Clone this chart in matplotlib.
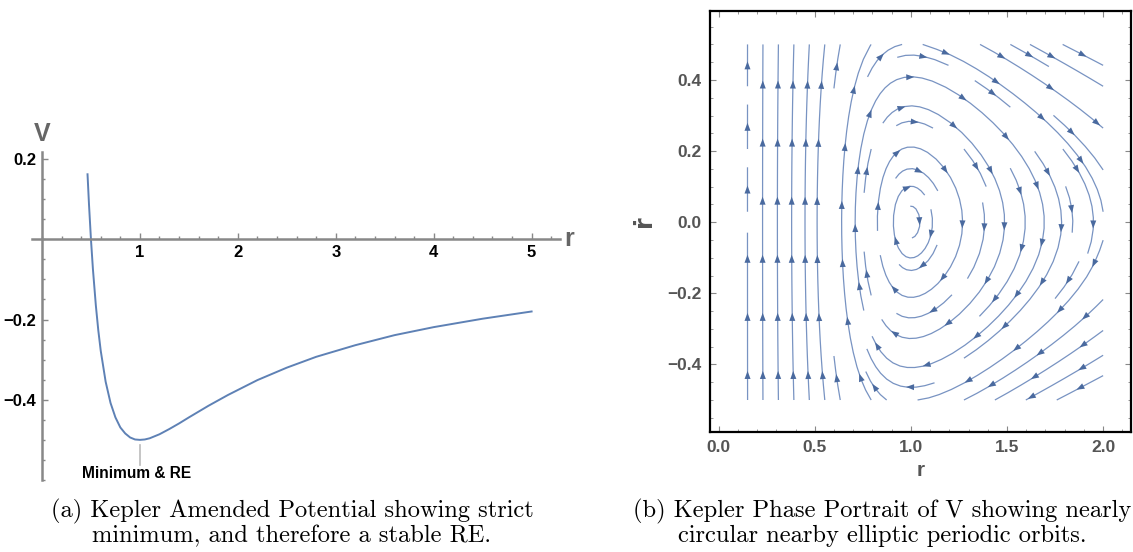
import numpy as np
import matplotlib
matplotlib.use("Agg")
import matplotlib.pyplot as plt
from matplotlib.ticker import MultipleLocator
from matplotlib.patches import Polygon

plt.rcParams['font.family'] = ['Liberation Sans', 'DejaVu Sans']

# (a) amended potential V(r)
r_vals = [0.465, 0.48, 0.5, 0.52, 0.55, 0.575, 0.6, 0.65, 0.7, 0.75, 0.8, 0.85,
          0.9, 0.95, 1.0, 1.05, 1.1, 1.2, 1.3, 1.4, 1.5, 1.7, 1.9, 2.2, 2.5,
          2.8, 3.2, 3.6, 4.0, 4.5, 5.0]
v_vals = [0.162, 0.087, 0.0, -0.074, -0.165, -0.227, -0.278, -0.355, -0.408,
          -0.444, -0.469, -0.484, -0.494, -0.499, -0.500, -0.499, -0.496,
          -0.486, -0.473, -0.459, -0.444, -0.415, -0.388, -0.351, -0.320,
          -0.293, -0.264, -0.239, -0.219, -0.198, -0.180]
xticks_a = [1, 2, 3, 4, 5]
yticks_a = [0.2, -0.2, -0.4]
ytick_labels_a = ['0.2', '\u22120.2', '\u22120.4']
min_r, min_v = 1.0, -0.5

# (b) phase portrait of r'' = 1/r^3 - 1/r^2 on r in [0.15, 2], rdot in [-0.5, 0.5]
r_grid = np.linspace(0.15, 2.0, 120)
rdot_grid = np.linspace(-0.5, 0.5, 120)
xticks_b = [0.0, 0.5, 1.0, 1.5, 2.0]
yticks_b = [-0.4, -0.2, 0.0, 0.2, 0.4]
ytick_labels_b = ['\u22120.4', '\u22120.2', '0.0', '0.2', '0.4']

captions = ["(a) Kepler Amended Potential showing strict\nminimum, and therefore a stable RE.",
            "(b) Kepler Phase Portrait of V showing nearly\ncircular nearby elliptic periodic orbits."]

blue = '#5e81b5'
W, H = 1133, 552
fig = plt.figure(figsize=(W / 100, H / 100), dpi=100)

# ---- left panel ----
ax1 = fig.add_axes([32 / W, 1 - 480 / H, 528 / W, 328 / H])
ax1.plot(r_vals, v_vals, color=blue, lw=1.4)
ax1.set_xlim(-0.102, 5.29)
ax1.set_ylim(-0.60, 0.2175)
for s in ['top', 'right']:
    ax1.spines[s].set_visible(False)
ax1.spines['left'].set_position(('data', 0))
ax1.spines['bottom'].set_position(('data', 0))
for s in ['left', 'bottom']:
    ax1.spines[s].set_color('#888888')
    ax1.spines[s].set_linewidth(1.8)
ax1.set_xticks(xticks_a)
ax1.set_xticklabels([str(t) for t in xticks_a])
ax1.set_yticks(yticks_a)
ax1.set_yticklabels(ytick_labels_a)
ax1.xaxis.set_minor_locator(MultipleLocator(0.2))
ax1.yaxis.set_minor_locator(MultipleLocator(0.05))
ax1.tick_params(which='both', direction='in', color='#888888', width=1.0)
ax1.tick_params(which='major', length=4, labelsize=12, pad=4)
ax1.tick_params(which='minor', length=2.5)
for lab in ax1.get_xticklabels() + ax1.get_yticklabels():
    lab.set_fontweight('bold')
ax1.text(0.0, 0.262, 'V', fontsize=18, fontweight='bold', color='#666666',
         ha='center', va='center')
ax1.text(5.33, 0.0, 'r', fontsize=18, fontweight='bold', color='#666666',
         ha='left', va='center', clip_on=False)
ax1.plot([min_r, min_r], [min_v - 0.013, min_v - 0.063], color='#bbbbbb', lw=1.2)
ax1.text(min_r - 0.03, min_v - 0.085, 'Minimum & RE', fontsize=11.2, fontweight='bold',
         ha='center', va='center')

# ---- right panel ----
ax2 = fig.add_axes([710 / W, 1 - 432 / H, 421 / W, 421 / H])
R, RD = np.meshgrid(r_grid, rdot_grid)
U = RD
V = 1.0 / R**3 - 1.0 / R**2
sp = ax2.streamplot(R, RD, U, V, density=(0.8, 0.6), color='#7893c2', linewidth=0.9,
                    arrowstyle='-', minlength=0.1)
for p in list(ax2.patches):
    p.remove()

# each segment of the collection is one whole streamline; put arrows along it
sx, sy = 192.0, 355.0   # pixels per data unit
step = 58.0
head_len, head_half = 8.0, 3.0
for ln in sp.lines.get_segments():
    pts = np.asarray(ln) * [sx, sy]
    d = np.hypot(*np.diff(pts, axis=0).T)
    cum = np.concatenate([[0], np.cumsum(d)])
    total = cum[-1]
    if total < 14:
        continue
    if total < step:
        targets = [total / 2 + head_len / 2]
    else:
        targets = np.arange(step / 2, total, step)
    for t in targets:
        tip = np.array([np.interp(t, cum, pts[:, 0]), np.interp(t, cum, pts[:, 1])])
        back = np.array([np.interp(t - head_len, cum, pts[:, 0]),
                         np.interp(t - head_len, cum, pts[:, 1])])
        dv = tip - back
        n = np.hypot(*dv)
        if n == 0:
            continue
        dv = dv / n
        perp = np.array([-dv[1], dv[0]])
        base = tip - head_len * dv
        tri = np.array([tip, base + head_half * perp, base - head_half * perp]) / [sx, sy]
        ax2.add_patch(Polygon(tri, closed=True, fc='#4a6a9f', ec='none', zorder=3))

ax2.set_xlim(-0.045, 2.145)
ax2.set_ylim(-0.59, 0.594)
ax2.set_xticks(xticks_b)
ax2.set_xticklabels(['%.1f' % t for t in xticks_b])
ax2.set_yticks(yticks_b)
ax2.set_yticklabels(ytick_labels_b)
ax2.xaxis.set_minor_locator(MultipleLocator(0.1))
ax2.yaxis.set_minor_locator(MultipleLocator(0.05))
ax2.tick_params(which='both', direction='in', top=True, right=True, color='#888888')
ax2.tick_params(which='major', length=4, labelsize=12.5, labelcolor='#555555', pad=6)
ax2.tick_params(which='minor', length=2)
for lab in ax2.get_xticklabels() + ax2.get_yticklabels():
    lab.set_fontweight('bold')
for s in ax2.spines.values():
    s.set_linewidth(1.6)
ax2.set_xlabel('r', fontsize=15, fontweight='bold', color='#555555', labelpad=4)
ax2.set_ylabel('\u1e59', fontsize=17, fontweight='bold', color='#555555', labelpad=8,
               family=['DejaVu Sans'])

# ---- captions ----
fig.text(292 / W, 1 - 523 / H, captions[0], family='cmr10', fontsize=17.6,
         ha='center', va='center', linespacing=1.05)
fig.text(882 / W, 1 - 523 / H, captions[1], family='cmr10', fontsize=17.6,
         ha='center', va='center', linespacing=1.05)

fig.savefig('out.png', dpi=100)
